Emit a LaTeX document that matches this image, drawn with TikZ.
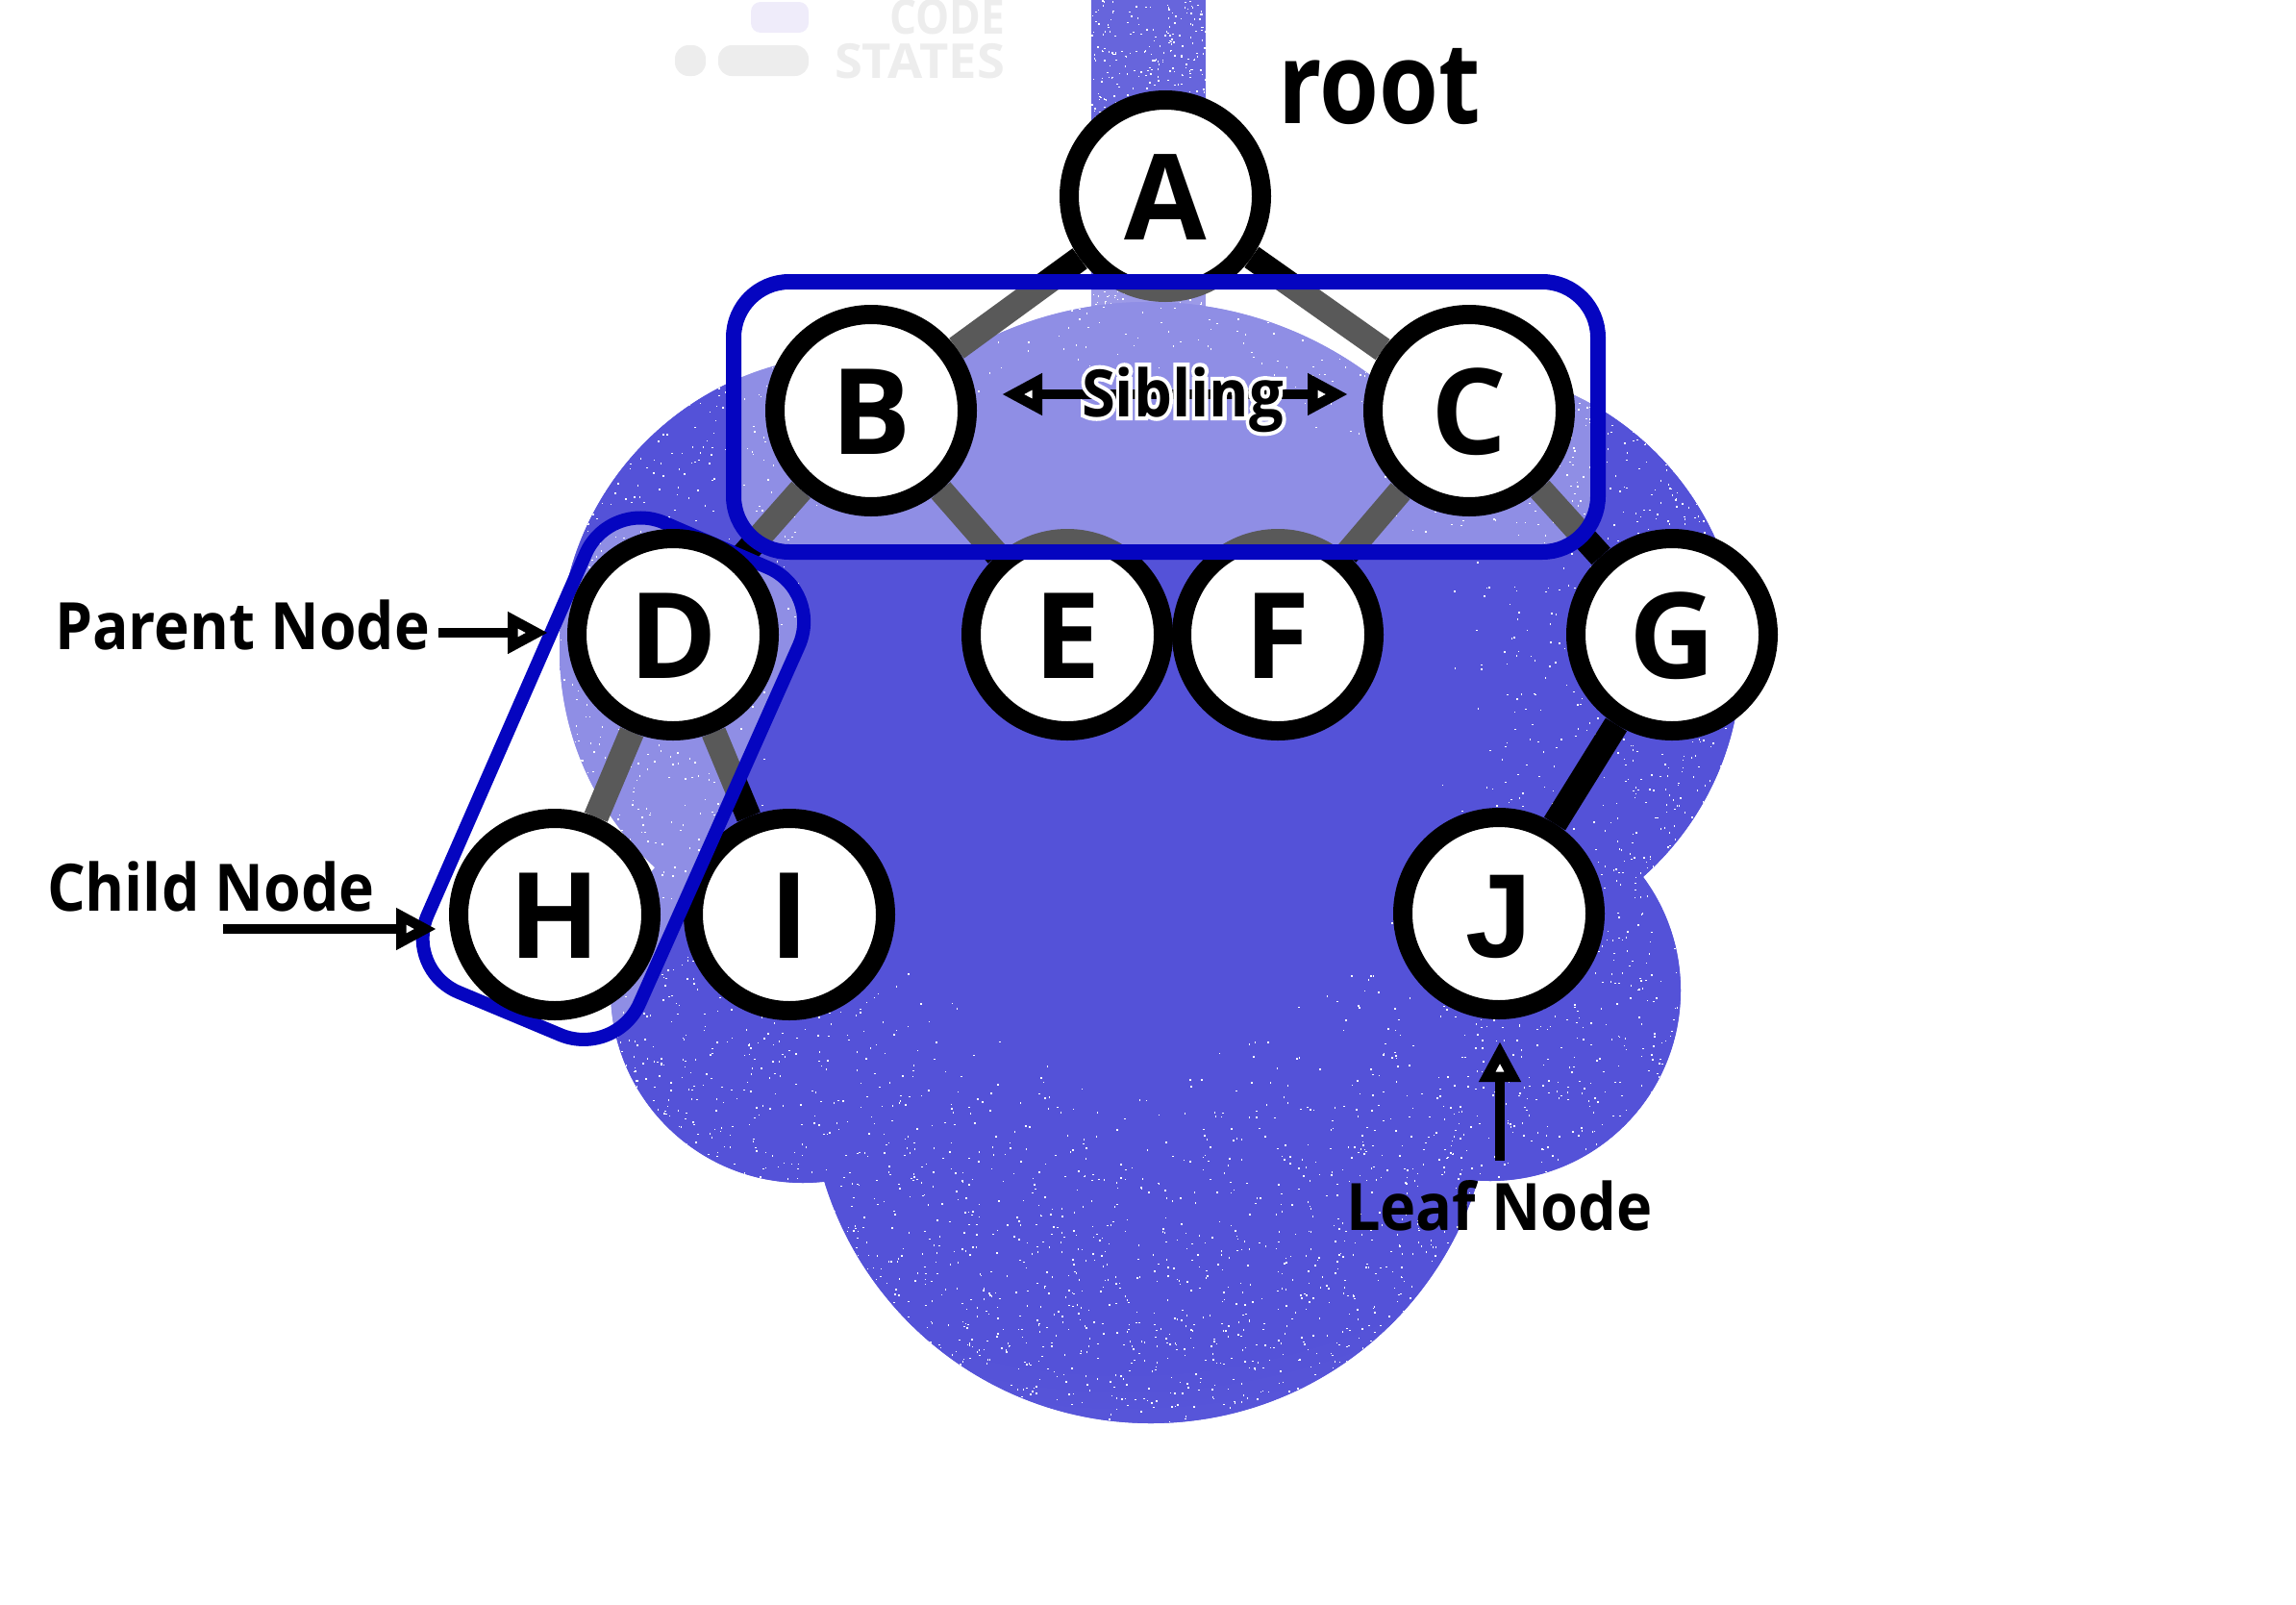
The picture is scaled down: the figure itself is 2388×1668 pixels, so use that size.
\documentclass[tikz,border=0pt]{standalone}
\usepackage{fontspec}
\setmainfont{Open Sans}
\newfontfamily\halofont{Open Sans}[BoldFeatures={FakeBold=12}]
\newfontfamily\jfont{Liberation Sans}
\usetikzlibrary{arrows.meta}
\definecolor{blobblue}{HTML}{5452D8}
\definecolor{blobedge}{HTML}{7F7DE2}
\definecolor{columnblue}{HTML}{6765DC}
\definecolor{ringblue}{HTML}{0505C0}
\definecolor{logogrey}{HTML}{EDEDED}
\definecolor{logolav}{HTML}{EFECFA}
\pgfdeclareradialshading{blobglow}{\pgfpoint{0bp}{0bp}}{color(0bp)=(blobblue);color(21bp)=(blobblue);color(44bp)=(blobedge);color(50bp)=(blobedge)}
\pgfdeclarelayer{blobs}\pgfdeclarelayer{links}\pgfdeclarelayer{veil}\pgfdeclarelayer{front}
\pgfsetlayers{blobs,links,main,veil,front}
\newcommand{\treeletter}[1]{\fontsize{124}{124}\selectfont\bfseries #1}
\newcommand{\labeltext}[2]{\resizebox{#1pt}{\height}{\fontsize{68}{80}\selectfont\bfseries #2}}
\newcommand{\blobshape}{(1197,1125) circle (355) (1550,1030) circle (198) (835,1030) circle (200) (889,676) circle (307) (1508,685) circle (303) (1195,700) circle (386) (1190,800) circle (420)}
\tikzset{
  treenode/.style={circle,draw=black,fill=white,line width=20pt,minimum size=200pt,inner sep=0pt,text height=90pt,text depth=0pt},
  treelink/.style={line width=26pt,draw=black},
  groupveil/.style={draw=ringblue,fill=white,fill opacity=.35,draw opacity=1},
  headtip/.tip={Triangle[length=42pt,width=41pt,fill=white,line width=10.5pt]},
  noteline/.style={draw=black,line width=10.5pt,-headtip},
  plaintext/.style={anchor=base west,inner sep=0pt,outer sep=0pt,text=black},
  logotext/.style={anchor=base west,inner sep=0pt,outer sep=0pt,text=logogrey}
}
\begin{document}
\begin{tikzpicture}[x=1pt,y=-1pt]
\useasboundingbox (0,0) rectangle (2388,1668);
\begin{pgfonlayer}{blobs}
  \begin{scope}
    \clip (1135,0) rectangle (1254,400);
    \fill[columnblue] (1135,0) rectangle (1254,400);
    \pgfmathsetseed{77}
    \foreach \i in {1,...,800}{
      \pgfmathsetmacro\sx{1135+119*rnd}
      \pgfmathsetmacro\sy{400*rnd}
      \fill[white] (\sx,\sy) rectangle +(1.5,1.5);
    }
  \end{scope}
  \begin{scope}
    \clip \blobshape;
    \fill[blobblue] (370,-50) rectangle (1970,1550);
    \shade[shading=blobglow] (370,-50) rectangle (1970,1550);
    \pgfmathsetseed{4242}
    \foreach \i in {1,...,9000}{
      \pgfmathsetmacro\ra{800*(0.42+0.55*sqrt(rnd))}
      \pgfmathsetmacro\an{rnd*360}
      \fill[white] ({1170+\ra*cos(\an)},{750+\ra*sin(\an)}) rectangle +(1.5,1.5);
    }
  \end{scope}
  % faint logo
  \fill[logolav,rounded corners=10pt] (781,2) rectangle (841,34);
  \fill[logogrey,rounded corners=14pt] (702,47) rectangle (734,79);
  \fill[logogrey,rounded corners=14pt] (747,47) rectangle (841,79);
  \node[logotext] (logocode) at (925,35) {\resizebox{120pt}{\height}{\fontsize{50}{60}\selectfont\bfseries CODE}};
  \node[logotext] (logostates) at (868,81) {\resizebox{177pt}{\height}{\fontsize{50}{60}\selectfont\bfseries STATES}};
\end{pgfonlayer}

% nodes under the veils
\node[treenode] (A) at (1212,204) {\treeletter{A}};
\node[treenode] (E) at (1110,660) {\treeletter{E}};
\node[treenode] (F) at (1329,660) {\treeletter{F}};
\node[treenode] (G) at (1739,660) {\treeletter{G}};
\node[treenode] (I) at (821,951) {\treeletter{I}};
\node[treenode] (J) at (1559,950) {\treeletter{\jfont J}};

\begin{pgfonlayer}{veil}
  \path[groupveil,line width=14pt,rounded corners=62pt] (634,519) -- (856,615) -- (640,1100) -- (420,1008) -- cycle;
  \path[groupveil,line width=16pt,rounded corners=58pt] (763,293) rectangle (1662,574);
\end{pgfonlayer}

\begin{pgfonlayer}{front}
  \node[treenode] (B) at (906,427) {\treeletter{B}};
  \node[treenode] (C) at (1528,427) {\treeletter{C}};
  \node[treenode] (D) at (700,660) {\treeletter{D}};
  \node[treenode] (H) at (577,951) {\treeletter{H}};

  \coordinate (sibL) at (1042,410);
  \coordinate (sibR) at (1402,410);
  \coordinate (parentS) at (456,658);
  \coordinate (parentT) at (570,658);
  \coordinate (childS) at (232,966);
  \coordinate (childT) at (454,966);
  \coordinate (leafS) at (1560,1207);
  \coordinate (leafT) at (1560,1083);
  \draw[noteline] (parentS) -- (parentT);
  \draw[noteline] (childS) -- (childT);
  \draw[noteline] (leafS) -- (leafT);
  \draw[noteline,headtip-headtip] (sibL) -- (sibR);

  \node[plaintext,text=white] (siblinghalo) at (1125,433) {\resizebox{210pt}{\height}{\fontsize{68}{80}\selectfont\halofont\bfseries Sibling}};
  \node[plaintext] (sibling) at (1125,433) {\labeltext{210}{Sibling}};
  \node[plaintext] (rootlabel) at (1329,128) {\resizebox{211pt}{\height}{\fontsize{118}{130}\selectfont\bfseries root}};
  \node[plaintext] (parentlabel) at (57,675) {\labeltext{390}{Parent Node}};
  \node[plaintext] (childlabel) at (49,947) {\labeltext{341}{Child Node}};
  \node[plaintext] (leaflabel) at (1400,1279) {\labeltext{319}{Leaf Node}};
\end{pgfonlayer}

\begin{pgfonlayer}{links}
  \draw[treelink] (A) -- (B);
  \draw[treelink] (A) -- (C);
  \draw[treelink] (B) -- (D);
  \draw[treelink] (B) -- (E);
  \draw[treelink] (C) -- (F);
  \draw[treelink] (C) -- (G);
  \draw[treelink] (D) -- (H);
  \draw[treelink] (D) -- (I);
  \draw[treelink] (G) -- (J);
\end{pgfonlayer}
\end{tikzpicture}
\end{document}
